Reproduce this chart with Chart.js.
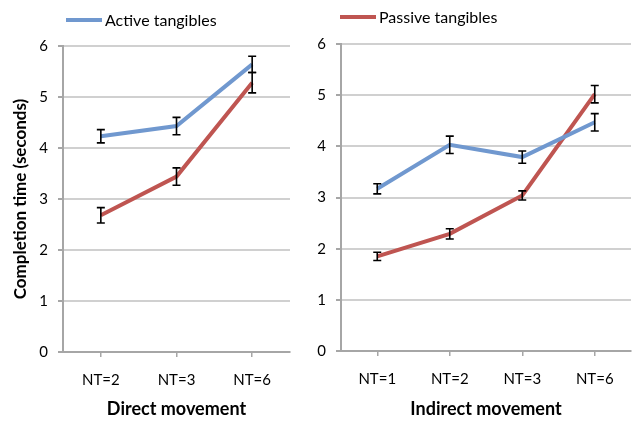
<!DOCTYPE html>
<html>
<head>
<meta charset="utf-8">
<script src="https://cdn.jsdelivr.net/npm/chart.js@4.4.1/dist/chart.umd.min.js"></script>
<style>
  body { margin: 0; background: #fff; }
  #left { position: absolute; left: 0; top: 0; width: 300px; height: 424px; }
  #right { position: absolute; left: 300px; top: 0; width: 332px; height: 424px; }
</style>
</head>
<body>
<div id="left"><canvas id="leftChart"></canvas></div>
<div id="right"><canvas id="rightChart"></canvas></div>
<script>
const directLabels = ['NT=2', 'NT=3', 'NT=6'];
const directActive = [4.23, 4.43, 5.64];
const directActiveErr = [0.13, 0.17, 0.16];
const directPassive = [2.68, 3.44, 5.28];
const directPassiveErr = [0.15, 0.17, 0.20];

const indirectLabels = ['NT=1', 'NT=2', 'NT=3', 'NT=6'];
const indirectActive = [3.17, 4.03, 3.79, 4.47];
const indirectActiveErr = [0.10, 0.17, 0.12, 0.17];
const indirectPassive = [1.85, 2.29, 3.04, 5.02];
const indirectPassiveErr = [0.08, 0.10, 0.09, 0.17];

const yTicks = [0, 1, 2, 3, 4, 5, 6];

const BLUE = '#7098cf';
const RED = '#bf5551';
const GRID = '#d0d0d0';
const AXIS = '#a6a6a6';
const FONT = 'Lato, "Open Sans", sans-serif';

// error bars drawn from the dataset's errors array through the y scale
const errorBars = {
  id: 'errorBars',
  afterDatasetsDraw(chart) {
    const ctx = chart.ctx;
    const y = chart.scales.y;
    ctx.save();
    ctx.strokeStyle = '#000';
    ctx.lineWidth = 1.6;
    chart.data.datasets.forEach((ds, i) => {
      const meta = chart.getDatasetMeta(i);
      meta.data.forEach((pt, j) => {
        const v = ds.data[j], e = ds.errors[j];
        const top = y.getPixelForValue(v + e);
        const bot = y.getPixelForValue(v - e);
        ctx.beginPath();
        ctx.moveTo(pt.x, top); ctx.lineTo(pt.x, bot);
        ctx.moveTo(pt.x - 4, top); ctx.lineTo(pt.x + 4, top);
        ctx.moveTo(pt.x - 4, bot); ctx.lineTo(pt.x + 4, bot);
        ctx.stroke();
      });
    });
    ctx.restore();
  }
};

// single-entry legend placed like the original
const lineLegend = {
  id: 'lineLegend',
  afterDraw(chart, args, opts) {
    const ds = chart.data.datasets[opts.index];
    const ctx = chart.ctx;
    ctx.save();
    ctx.strokeStyle = ds.borderColor;
    ctx.lineWidth = 4;
    ctx.beginPath();
    ctx.moveTo(opts.x, opts.y);
    ctx.lineTo(opts.x + 36, opts.y);
    ctx.stroke();
    ctx.fillStyle = '#000';
    ctx.font = '16px ' + FONT;
    ctx.textBaseline = 'middle';
    ctx.fillText(ds.label, opts.x + 39, opts.y + 1);
    ctx.restore();
  }
};

function makeChart(id, labels, active, activeErr, passive, passiveErr, opts) {
  return new Chart(document.getElementById(id), {
    type: 'line',
    data: {
      labels: labels,
      datasets: [
        { label: 'Active tangibles', data: active, errors: activeErr,
          borderColor: BLUE, backgroundColor: BLUE, borderWidth: 4,
          pointRadius: 0, tension: 0 },
        { label: 'Passive tangibles', data: passive, errors: passiveErr,
          borderColor: RED, backgroundColor: RED, borderWidth: 4,
          pointRadius: 0, tension: 0 }
      ]
    },
    plugins: [errorBars, lineLegend],
    options: {
      responsive: true,
      maintainAspectRatio: false,
      animation: false,
      layout: { padding: { top: opts.top, right: opts.right, bottom: 0, left: 0 } },
      plugins: {
        legend: { display: false },
        tooltip: { enabled: false },
        lineLegend: opts.legend
      },
      scales: {
        x: {
          offset: true,
          grid: { display: true, drawOnChartArea: false, offset: false,
                  tickLength: 5, tickColor: AXIS, lineWidth: 1.5 },
          border: { color: AXIS, width: 2 },
          ticks: { color: '#000', font: { family: FONT, size: 15 }, padding: 14, maxRotation: 0 },
          title: { display: true, text: opts.xTitle, color: '#000',
                   font: { family: FONT, size: 18, weight: 'bold' },
                   padding: { top: 0, bottom: 4 } },
          afterFit(s) { s.height = 424 - opts.bottomY; }
        },
        y: {
          min: 0, max: 6,
          afterBuildTicks(s) { s.ticks = yTicks.map(v => ({ value: v })); },
          grid: { color: GRID, lineWidth: 2, tickLength: 5, tickColor: AXIS },
          border: { color: AXIS, width: 2 },
          ticks: { color: '#000', font: { family: FONT, size: 15 }, padding: 10 },
          title: { display: !!opts.yTitle, text: opts.yTitle || '', color: '#000',
                   font: { family: FONT, size: 17, weight: 'bold' },
                   padding: { top: 10, bottom: 0 } },
          afterFit(s) { s.width = opts.axisX; }
        }
      }
    }
  });
}

makeChart('leftChart', directLabels, directActive, directActiveErr, directPassive, directPassiveErr, {
  top: 46, right: 10, bottomY: 352, axisX: 63,
  xTitle: 'Direct movement', yTitle: 'Completion time (seconds)',
  legend: { index: 0, x: 66, y: 20 }
});

makeChart('rightChart', indirectLabels, indirectActive, indirectActiveErr, indirectPassive, indirectPassiveErr, {
  top: 44, right: 1, bottomY: 351, axisX: 41,
  xTitle: 'Indirect movement', yTitle: null,
  legend: { index: 1, x: 40, y: 17 }
});
</script>
</body>
</html>
